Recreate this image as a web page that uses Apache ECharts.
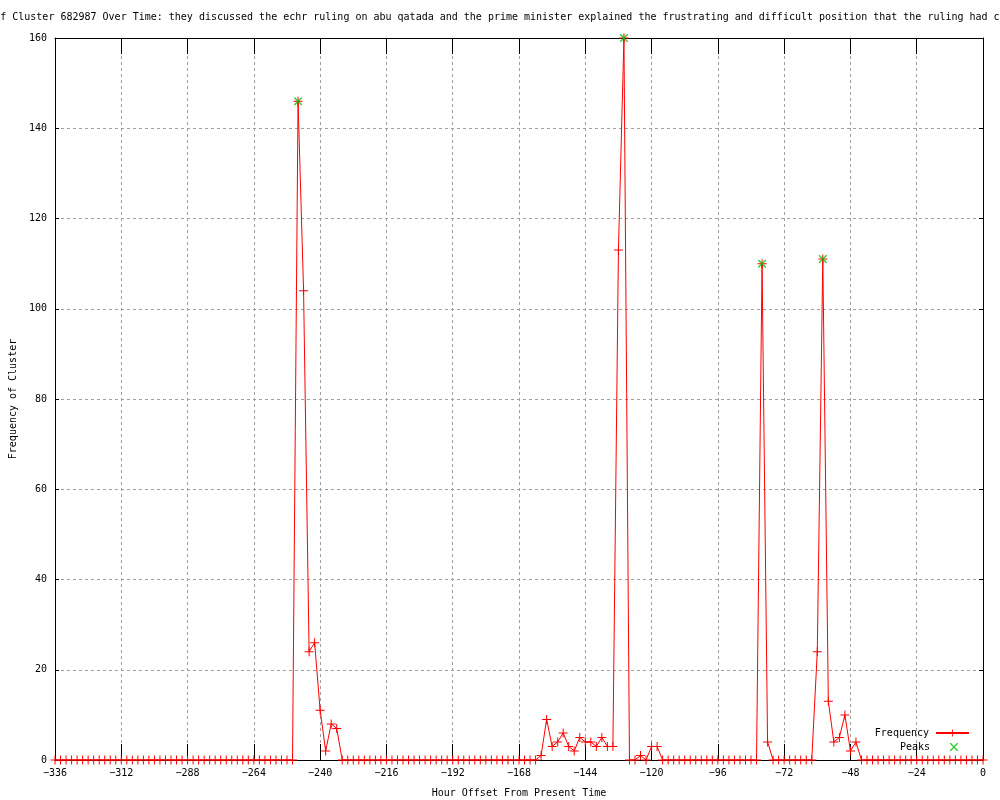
<!DOCTYPE html>
<html>
<head>
<meta charset="utf-8">
<script src="https://cdn.jsdelivr.net/npm/echarts@6/dist/echarts.min.js"></script>
<style>html,body{margin:0;padding:0;background:#fff}#c{width:1000px;height:800px}</style>
</head>
<body>
<div id="c"></div>
<script>
// Hour offsets (every 2 hours) from -336 to 0
const hours = [
  -336,-334,-332,-330,-328,-326,-324,-322,-320,-318,-316,-314,
  -312,-310,-308,-306,-304,-302,-300,-298,-296,-294,-292,-290,
  -288,-286,-284,-282,-280,-278,-276,-274,-272,-270,-268,-266,
  -264,-262,-260,-258,-256,-254,-252,-250,-248,-246,-244,-242,
  -240,-238,-236,-234,-232,-230,-228,-226,-224,-222,-220,-218,
  -216,-214,-212,-210,-208,-206,-204,-202,-200,-198,-196,-194,
  -192,-190,-188,-186,-184,-182,-180,-178,-176,-174,-172,-170,
  -168,-166,-164,-162,-160,-158,-156,-154,-152,-150,-148,-146,
  -144,-142,-140,-138,-136,-134,-132,-130,-128,-126,-124,-122,
  -120,-118,-116,-114,-112,-110,-108,-106,-104,-102,-100,-98,
  -96,-94,-92,-90,-88,-86,-84,-82,-80,-78,-76,-74,
  -72,-70,-68,-66,-64,-62,-60,-58,-56,-54,-52,-50,
  -48,-46,-44,-42,-40,-38,-36,-34,-32,-30,-28,-26,
  -24,-22,-20,-18,-16,-14,-12,-10,-8,-6,-4,-2,
  0
];
const frequency = [
  0,0,0,0,0,0,0,0,0,0,0,0,
  0,0,0,0,0,0,0,0,0,0,0,0,
  0,0,0,0,0,0,0,0,0,0,0,0,
  0,0,0,0,0,0,0,0,146,104,24,26,
  11,2,8,7,0,0,0,0,0,0,0,0,
  0,0,0,0,0,0,0,0,0,0,0,0,
  0,0,0,0,0,0,0,0,0,0,0,0,
  0,0,0,0,1,9,3,4,6,3,2,5,
  4,4,3,5,3,3,113,160,0,0,1,0,
  3,3,0,0,0,0,0,0,0,0,0,0,
  0,0,0,0,0,0,0,0,110,4,0,0,
  0,0,0,0,0,0,24,111,13,4,5,10,
  2,4,0,0,0,0,0,0,0,0,0,0,
  0,0,0,0,0,0,0,0,0,0,0,0,
  0
];
const peakHours = [-248, -130, -80, -58];
const peakValues = [146, 160, 110, 111];
const xTicks = [-336,-312,-288,-264,-240,-216,-192,-168,-144,-120,-96,-72,-48,-24,0];
const yTicks = [0,20,40,60,80,100,120,140,160];

const FONT = 'DejaVu Sans Mono';
const PLUS = 'path://M0,4h9v1h-9z M4,0h1v9h-1z';
const CROSS = 'path://M0,0L1,0L8,7L8,8L7,8L0,1Z M7,0L8,0L8,1L1,8L0,8L0,7Z';
const gridLine = {show: true, lineStyle: {color: '#a0a0a0', type: [3, 3], width: 1}};
const fmt = v => String(v).replace('-', '\u2212');

const chart = echarts.init(document.getElementById('c'), null, {renderer: 'canvas'});
chart.setOption({
  animation: false,
  backgroundColor: '#fff',
  textStyle: {fontFamily: FONT, fontSize: 10, color: '#000'},
  grid: {left: 55, right: 17, top: 38, bottom: 40, containLabel: false, outerBoundsMode: 'none'},
  graphic: [{
    type: 'text', x: -66, y: 17,
    style: {
      text: 'Frequency of Cluster 682987 Over Time: they discussed the echr ruling on abu qatada and the prime minister explained the frustrating and difficult position that the ruling had created',
      font: '10px "' + FONT + '"', fill: '#000', verticalAlign: 'middle'
    }
  }],
  legend: [{
    data: ['Frequency'], right: 30, top: 728, padding: 0, itemWidth: 33, itemHeight: 9,
    textStyle: {fontFamily: FONT, fontSize: 10, color: '#000', padding: [0, 2, 0, 0]}, align: 'right'
  }, {
    data: [{name: 'Peaks', icon: CROSS}], right: 42, top: 742, padding: 0, itemWidth: 8, itemHeight: 8,
    textStyle: {fontFamily: FONT, fontSize: 10, color: '#000', padding: [0, 15, 0, 0]}, align: 'right'
  }],
  xAxis: [{
    type: 'value', position: 'bottom', min: -336, max: 0, interval: 24,
    name: 'Hour Offset From Present Time', nameLocation: 'middle', nameGap: 28,
    nameTextStyle: {fontFamily: FONT, fontSize: 10, color: '#000'},
    axisLine: {show: true, onZero: false, lineStyle: {color: '#000', width: 1}},
    axisTick: {show: true, inside: true, length: 16, lineStyle: {color: '#000'}},
    axisLabel: {formatter: fmt, margin: 8, fontFamily: FONT, fontSize: 10, color: '#000', showMinLabel: true, showMaxLabel: true},
    splitLine: gridLine
  }, {
    type: 'value', position: 'top', min: -336, max: 0, interval: 24,
    axisLine: {show: true, onZero: false, lineStyle: {color: '#000', width: 1}},
    axisTick: {show: true, inside: true, length: 16, lineStyle: {color: '#000'}},
    axisLabel: {show: false}, splitLine: {show: false}
  }],
  yAxis: [{
    type: 'value', position: 'left', min: 0, max: 160, interval: 20,
    name: 'Frequency of Cluster', nameLocation: 'middle', nameGap: 37, nameRotate: 90,
    nameTextStyle: {fontFamily: FONT, fontSize: 10, color: '#000'},
    axisLine: {show: true, onZero: false, lineStyle: {color: '#000', width: 1}},
    axisTick: {show: true, inside: true, length: 4, lineStyle: {color: '#000'}},
    axisLabel: {margin: 8, fontFamily: FONT, fontSize: 10, color: '#000'},
    splitLine: gridLine
  }, {
    type: 'value', position: 'right', min: 0, max: 160, interval: 20,
    axisLine: {show: true, onZero: false, lineStyle: {color: '#000', width: 1}},
    axisTick: {show: true, inside: true, length: 4, lineStyle: {color: '#000'}},
    axisLabel: {show: false}, splitLine: {show: false}
  }],
  series: [{
    name: 'Frequency', type: 'line', xAxisIndex: 0, yAxisIndex: 0,
    data: hours.map((h, i) => [h, frequency[i]]),
    symbol: PLUS, symbolSize: 9, showAllSymbol: true,
    lineStyle: {color: '#ff0000', width: 1},
    itemStyle: {color: '#ff0000'},
    z: 3
  }, {
    name: 'Peaks', type: 'scatter', xAxisIndex: 0, yAxisIndex: 0,
    data: peakHours.map((h, i) => [h, peakValues[i]]),
    symbol: CROSS, symbolSize: 8,
    itemStyle: {color: '#00c000'},
    z: 4
  }]
});
</script>
</body>
</html>
